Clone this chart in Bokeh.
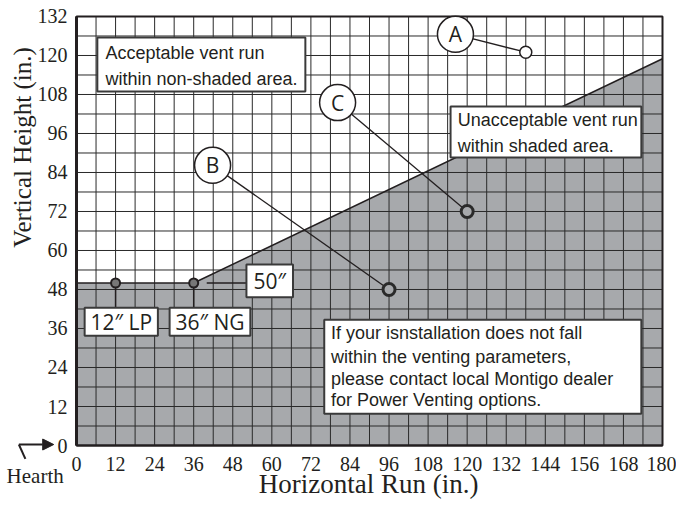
import math
from bokeh.plotting import figure
from bokeh.models import Range1d, FixedTicker, Label, Arrow, NormalHead
from bokeh.embed import file_html
from bokeh.resources import INLINE

# ---- data ----
x_ticks = list(range(0, 181, 12))
y_ticks = list(range(0, 133, 12))
x_minor = list(range(0, 181, 6))
y_minor = list(range(0, 133, 6))

boundary_x = [0, 36, 180]
boundary_y = [50, 50, 119]

vent_min_x = [12, 36]
vent_min_y = [50, 50]
vent_min_labels = ["12\u2033 LP", "36\u2033 NG"]
min_height_label = "50\u2033"

case_names = ["A", "B", "C"]
case_x = [138, 96, 120]
case_y = [121, 48, 72]

INK = "#231f20"
SHADE = "#a7a9ac"
GRID = "#2a2a2a"
SERIF = "Liberation Serif"
SANS = "Liberation Sans"
MYR = "Open Sans"

XMIN, XMAX = x_ticks[0], x_ticks[-1]
YMIN, YMAX = y_ticks[0], y_ticks[-1]

# frame covers the whole canvas; axes are pinned at 0
p = figure(width=676, height=501,
           x_range=Range1d(-23.345, 184.30), y_range=Range1d(-17.23, 136.92),
           output_backend="svg", toolbar_location=None,
           min_border_left=0, min_border_right=0, min_border_top=0, min_border_bottom=0)
p.background_fill_color = "white"
p.border_fill_color = "white"
p.outline_line_color = None
p.grid.visible = False

p.xaxis.ticker = FixedTicker(ticks=x_ticks)
p.yaxis.ticker = FixedTicker(ticks=y_ticks)
p.xaxis.fixed_location = 0
p.yaxis.fixed_location = 0
p.xaxis.bounds = (XMIN, XMAX)
p.yaxis.bounds = (YMIN, YMAX)
for ax in (p.xaxis, p.yaxis):
    ax.major_tick_line_color = None
    ax.minor_tick_line_color = None
    ax.major_label_text_font = SERIF
    ax.major_label_text_font_size = "20px"
    ax.major_label_text_color = INK
    ax.axis_line_color = INK
p.yaxis.axis_line_width = 3
p.xaxis.axis_line_width = 2
p.yaxis.major_label_standoff = 3
p.xaxis.major_label_standoff = 5

# shaded (unacceptable) region below the boundary
p.patch(boundary_x + [XMAX, XMIN], boundary_y + [YMIN, YMIN], fill_color=SHADE, line_color=None)

# grid every 6 in.
p.segment(x0=x_minor, y0=[YMIN] * len(x_minor), x1=x_minor, y1=[YMAX] * len(x_minor),
          line_color=GRID, line_width=1)
p.segment(x0=[XMIN] * len(y_minor), y0=y_minor, x1=[XMAX] * len(y_minor), y1=y_minor,
          line_color=GRID, line_width=1)
# chart border
p.quad(left=XMIN, right=XMAX, bottom=YMIN, top=YMAX, fill_color=None, line_color=INK, line_width=2)

p.line(boundary_x, boundary_y, line_color=INK, line_width=1.5)

# ---- text boxes ----
def box(l, r, t, b):
    p.quad(left=l, right=r, top=t, bottom=b, fill_color="white", line_color="#3a3a3a", line_width=2)

def txt(x, y, s, font=SANS, size="18px", align="left", baseline="middle", angle=0):
    p.add_layout(Label(x=x, y=y, text=s, text_font=font, text_font_size=size, text_color=INK,
                       text_align=align, text_baseline=baseline, angle=angle))

box(6.4, 70.3, 125.5, 108.9)
txt(8.9, 120.7, "Acceptable vent run")
txt(8.9, 112.8, "within non-shaded area.")

box(114.9, 173.5, 104.3, 88.6)
txt(117.1, 100.25, "Unacceptable vent run")
txt(117.1, 92.25, "within shaded area.")

box(76.1, 173.5, 38.7, 9.75)
for yy, s in zip([34.5, 27.3, 20.45, 14.0],
                 ["If your isnstallation does not fall",
                  "within the venting parameters,",
                  "please contact local Montigo dealer",
                  "for Power Venting options."]):
    txt(78.2, yy, s)

# minimum vertical height labels
label_boxes = [(2.5, 25.0), (28.6, 53.4)]
p.segment(x0=vent_min_x, y0=vent_min_y, x1=vent_min_x, y1=[42.4, 42.4], line_color=INK, line_width=1.5)
for (l, r), s in zip(label_boxes, vent_min_labels):
    box(l, r, 42.4, 33.8)
    txt((l + r) / 2, 38.1, s, font=MYR, size="21px", align="center")

p.segment(x0=[40], y0=[vent_min_y[1]], x1=[52.2], y1=[vent_min_y[1]], line_color=INK, line_width=1.5)
box(52.2, 66.5, 55.7, 45.6)
txt(59.35, 50.65, min_height_label, font=MYR, size="21px", align="center")

p.scatter(vent_min_x, vent_min_y, size=9, fill_color="#777777", line_color=INK, line_width=2)

# ---- case callouts ----
callout_x = [116.4, 41.8, 80.2]
callout_y = [126.5, 86.2, 105.5]
p.segment(x0=callout_x, y0=callout_y, x1=case_x, y1=case_y, line_color=INK, line_width=1.3)
p.scatter(case_x[:1], case_y[:1], size=12, fill_color="white", line_color=INK, line_width=1.5)
p.scatter(case_x[1:], case_y[1:], size=12, fill_color=SHADE, line_color="#2a2a2a", line_width=3)
p.scatter(callout_x, callout_y, size=36, fill_color="white", line_color=INK, line_width=1.5)
for cx, cy, s in zip(callout_x, callout_y, case_names):
    txt(cx, cy, s, font=MYR, size="21px", align="center")

# ---- axis titles & hearth marker ----
txt(89.7, -11.9, "Horizontal Run (in.)", font=SERIF, size="27px", align="center")
txt(-16.6, 91.7, "Vertical Height (in.)", font=SERIF, size="25px", align="center", angle=math.pi / 2)
txt(-12.7, -9.5, "Hearth", font=SERIF, size="21px", align="center")
p.add_layout(Arrow(x_start=-15.7, y_start=-4.1, x_end=-17.7, y_end=0.3, end=None,
                   line_color=INK, line_width=2))
p.add_layout(Arrow(x_start=-17.7, y_start=0.3, x_end=-7.0, y_end=0.3,
                   end=NormalHead(size=11, fill_color=INK, line_color=INK),
                   line_color=INK, line_width=2))

open("out.html", "w").write(file_html(p, INLINE))
